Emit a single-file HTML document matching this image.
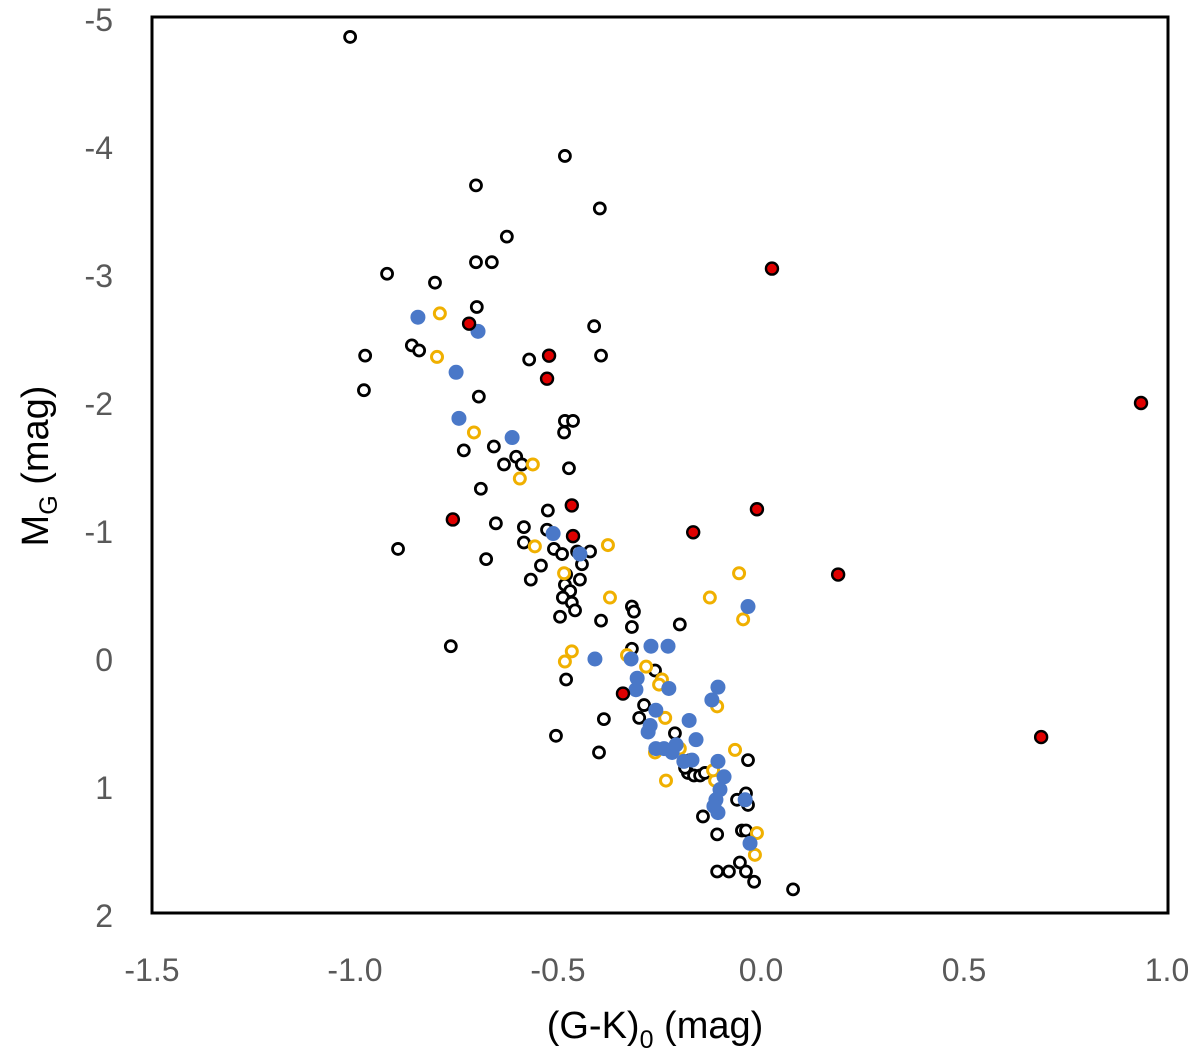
<!DOCTYPE html>
<html><head><meta charset="utf-8"><style>
html,body{margin:0;padding:0;background:#fff;}
svg{display:block;}
.tick{font-family:"Liberation Sans",sans-serif;font-size:32px;fill:#595959;}
.title{font-family:"Liberation Sans",sans-serif;font-size:38px;fill:#000;}
</style></head><body>
<svg id="chart" width="1200" height="1059" xmlns="http://www.w3.org/2000/svg"></svg>
<script>
const xTicks=[-1.5,-1.0,-0.5,0.0,0.5,1.0];
const xTickLabels=["-1.5","-1.0","-0.5","0.0","0.5","1.0"];
const yTicks=[-5,-4,-3,-2,-1,0,1,2];
const yTickLabels=["-5","-4","-3","-2","-1","0","1","2"];
const blackX=[-1.012,-0.483,-0.702,-0.397,-0.626,-0.702,-0.663,-0.921,-0.803,-0.700,-0.411,-0.860,-0.842,-0.975,-0.571,-0.394,-0.978,-0.695,-0.483,-0.463,-0.485,-0.732,-0.658,-0.603,-0.633,-0.589,-0.473,-0.690,-0.525,-0.653,-0.584,-0.527,-0.894,-0.584,-0.510,-0.490,-0.453,-0.421,-0.677,-0.542,-0.441,-0.567,-0.480,-0.446,-0.483,-0.470,-0.488,-0.466,-0.458,-0.495,-0.318,-0.313,-0.394,-0.318,-0.200,-0.764,-0.318,-0.480,-0.261,-0.288,-0.300,-0.387,-0.505,-0.399,-0.212,-0.180,-0.165,-0.150,-0.138,-0.175,-0.187,-0.037,-0.059,-0.032,-0.032,-0.047,-0.037,-0.143,-0.108,-0.108,-0.079,-0.052,-0.037,-0.017,0.079];
const blackY=[-4.86,-3.93,-3.70,-3.52,-3.30,-3.10,-3.10,-3.01,-2.94,-2.75,-2.60,-2.45,-2.41,-2.37,-2.34,-2.37,-2.10,-2.05,-1.86,-1.86,-1.77,-1.63,-1.66,-1.58,-1.52,-1.52,-1.49,-1.33,-1.16,-1.06,-1.03,-1.01,-0.86,-0.91,-0.86,-0.82,-0.84,-0.84,-0.78,-0.73,-0.74,-0.62,-0.66,-0.62,-0.58,-0.53,-0.48,-0.44,-0.38,-0.33,-0.41,-0.37,-0.30,-0.25,-0.27,-0.10,-0.08,0.16,0.09,0.36,0.46,0.47,0.60,0.73,0.58,0.89,0.91,0.91,0.89,0.79,0.85,1.05,1.10,1.14,0.79,1.34,1.34,1.23,1.37,1.66,1.66,1.59,1.66,1.74,1.80];
const redX=[-0.719,-0.522,-0.527,0.027,0.936,-0.466,-0.010,-0.167,-0.759,-0.463,0.190,-0.340,0.690];
const redY=[-2.62,-2.37,-2.19,-3.05,-2.00,-1.20,-1.17,-0.99,-1.09,-0.96,-0.66,0.27,0.61];
const blueX=[-0.845,-0.697,-0.751,-0.744,-0.613,-0.512,-0.446,-0.032,-0.409,-0.271,-0.229,-0.320,-0.305,-0.308,-0.227,-0.106,-0.121,-0.259,-0.177,-0.273,-0.278,-0.259,-0.239,-0.219,-0.160,-0.209,-0.190,-0.170,-0.106,-0.091,-0.101,-0.111,-0.116,-0.106,-0.039,-0.027];
const blueY=[-2.67,-2.56,-2.24,-1.88,-1.73,-0.98,-0.82,-0.41,0.00,-0.10,-0.10,0.00,0.15,0.24,0.23,0.22,0.32,0.40,0.48,0.52,0.57,0.70,0.70,0.73,0.63,0.67,0.80,0.79,0.80,0.92,1.02,1.10,1.15,1.20,1.10,1.44];
const yellowX=[-0.791,-0.798,-0.707,-0.562,-0.594,-0.557,-0.377,-0.485,-0.372,-0.054,-0.126,-0.044,-0.466,-0.483,-0.330,-0.283,-0.244,-0.251,-0.236,-0.108,-0.261,-0.200,-0.064,-0.113,-0.234,-0.118,-0.010,-0.015];
const yellowY=[-2.70,-2.36,-1.77,-1.52,-1.41,-0.88,-0.89,-0.67,-0.48,-0.67,-0.48,-0.31,-0.06,0.02,-0.03,0.06,0.16,0.20,0.46,0.37,0.73,0.70,0.71,0.95,0.95,0.87,1.36,1.53];

const L=152,R=1168,T=17,B=913;
const sx=v=>761+(v-0)*406;
const sy=v=>659+v*128;
const NS="http://www.w3.org/2000/svg";
const svg=document.getElementById('chart');
function mk(tag,attrs,parent){const e=document.createElementNS(NS,tag);for(const k in attrs)e.setAttribute(k,attrs[k]);(parent||svg).appendChild(e);return e;}

const frame=mk('rect',{x:L,y:T,width:R-L,height:B-T,fill:'none',stroke:'#000','stroke-width':3});



xTicks.forEach((v,i)=>{const t=mk('text',{x:sx(v),y:981,'text-anchor':'middle',class:'tick'});t.textContent=xTickLabels[i];

});
yTicks.forEach((v,i)=>{const t=mk('text',{x:113,y:sy(v)+12,'text-anchor':'end',class:'tick'});t.textContent=yTickLabels[i];

});

const xt=mk('text',{x:655,y:1038,'text-anchor':'middle',class:'title'});
xt.innerHTML='(G-K)<tspan font-size="25" dy="10">0</tspan><tspan dy="-10">  (mag)</tspan>';


const yt=mk('text',{x:0,y:0,'text-anchor':'middle',class:'title',transform:'translate(48,466) rotate(-90)'});
yt.innerHTML='M<tspan font-size="25" dy="9">G</tspan><tspan dy="-9"> (mag)</tspan>';



const gB=mk('g',{});
blackX.forEach((v,i)=>{const c=mk('circle',{cx:sx(v),cy:sy(blackY[i]),r:5.5,fill:'#fff',stroke:'#000','stroke-width':2.8},gB);

});
const gY=mk('g',{});
yellowX.forEach((v,i)=>{const c=mk('circle',{cx:sx(v),cy:sy(yellowY[i]),r:5.5,fill:'#fff',stroke:'#f0b000','stroke-width':3},gY);

});
const gBl=mk('g',{});
blueX.forEach((v,i)=>{const c=mk('circle',{cx:sx(v),cy:sy(blueY[i]),r:7.5,fill:'#4a78c8'},gBl);

});
const gR=mk('g',{});
redX.forEach((v,i)=>{const c=mk('circle',{cx:sx(v),cy:sy(redY[i]),r:6,fill:'#e00000',stroke:'#000','stroke-width':2.4},gR);

});
</script>
</body></html>
